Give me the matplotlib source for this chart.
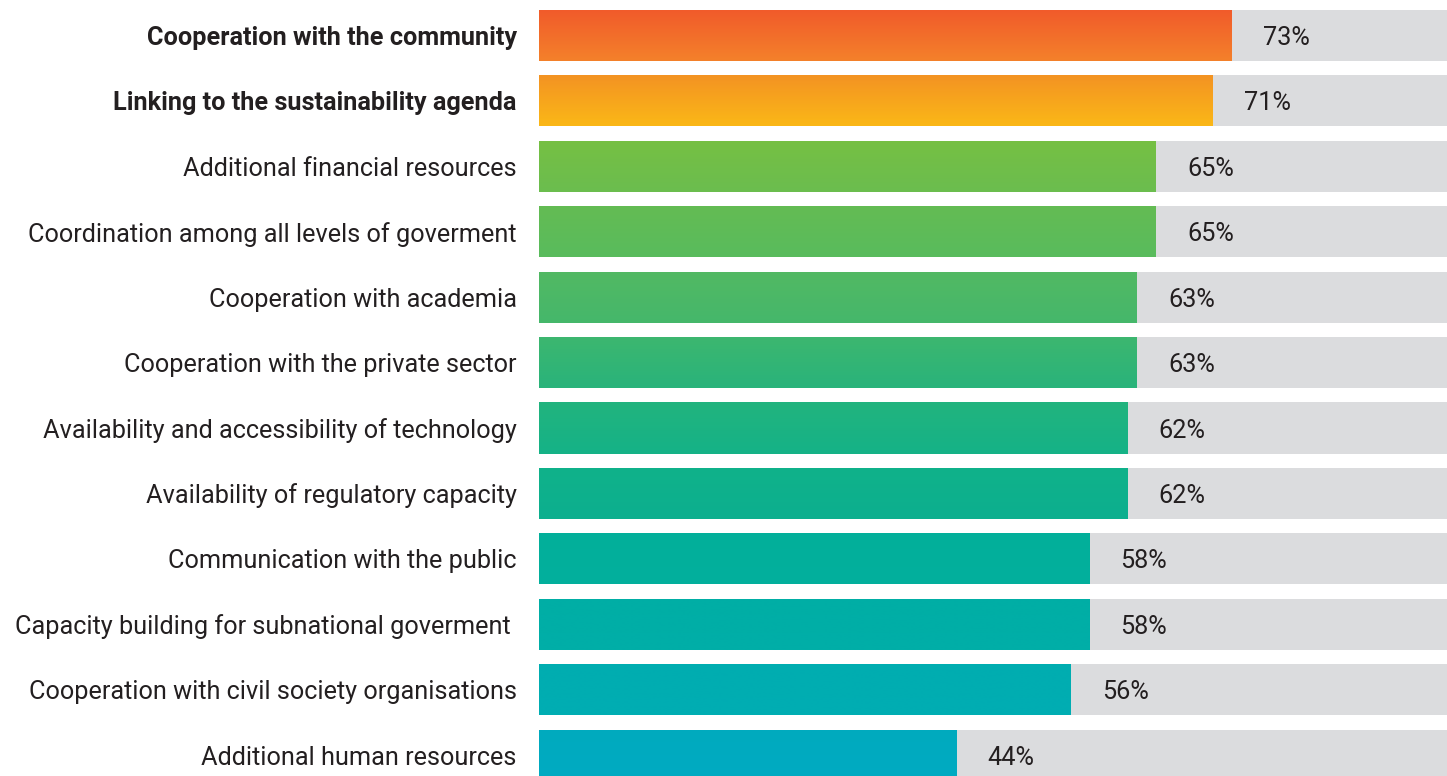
import numpy as np
import matplotlib.pyplot as plt
from matplotlib.colors import LinearSegmentedColormap

plt.rcParams['font.family'] = ['Roboto', 'DejaVu Sans']

# Share of respondents naming each factor (%)
factors = [
    'Cooperation with the community',
    'Linking to the sustainability agenda',
    'Additional financial resources',
    'Coordination among all levels of goverment',
    'Cooperation with academia',
    'Cooperation with the private sector',
    'Availability and accessibility of technology',
    'Availability of regulatory capacity',
    'Communication with the public',
    'Capacity building for subnational goverment ',
    'Cooperation with civil society organisations',
    'Additional human resources',
]
shares = [73, 71, 65, 65, 63, 63, 62, 62, 58, 58, 56, 44]
highlighted = [True, True] + [False] * 10

# top / bottom colour of each bar's vertical gradient
grad_colors = [
    ('#f15a2b', '#f4812a'),
    ('#f39223', '#fbb817'),
    ('#76c043', '#6bbd4f'),
    ('#64bc53', '#59bb5d'),
    ('#52b963', '#45b76b'),
    ('#3db76f', '#29b37b'),
    ('#22b47e', '#15b287'),
    ('#10b28a', '#0caf8f'),
    ('#03b09a', '#02af9d'),
    ('#00aea5', '#00aea8'),
    ('#00adb0', '#00adb3'),
    ('#00abbe', '#00aac2'),
]

TEXT = '#231f20'
GRAY = '#dbdcde'
BAR_H = 0.78
FS = 18.2

fig = plt.figure(figsize=(14.47, 7.76), dpi=100)
ax = fig.add_axes([0.3725, 0.0, 0.6275, 1.0])

y = np.arange(len(factors))
ax.barh(y, [100] * len(y), height=BAR_H, color=GRAY, zorder=1)
bars = ax.barh(y, shares, height=BAR_H, color='none', zorder=2)

grad = np.linspace(0, 1, 256).reshape(-1, 1)
for bar, (top, bottom) in zip(bars, grad_colors):
    x0, y0 = bar.get_x(), bar.get_y()
    w, h = bar.get_width(), bar.get_height()
    cmap = LinearSegmentedColormap.from_list('g', [top, bottom])
    im = ax.imshow(grad, cmap=cmap, aspect='auto', origin='upper',
                   extent=(x0, x0 + w, y0 + h, y0), zorder=2)
    im.set_clip_path(bar)

for yi, v in zip(y, shares):
    ax.text(v + 3.3, yi, f'{v}%', va='center_baseline', ha='left',
            fontsize=FS, color=TEXT, zorder=3)

ax.set_yticks(y)
ax.set_yticklabels(factors, fontsize=FS, color=TEXT)
for lbl, hi in zip(ax.get_yticklabels(), highlighted):
    lbl.set_verticalalignment('center_baseline')
    if hi:
        lbl.set_fontweight('bold')
ax.tick_params(axis='y', length=0, pad=16)
ax.set_xticks([])

ax.set_xlim(0, 95.7)
ax.set_ylim(11.32, -0.543)
for s in ax.spines.values():
    s.set_visible(False)

fig.savefig('out.png', dpi=100)
